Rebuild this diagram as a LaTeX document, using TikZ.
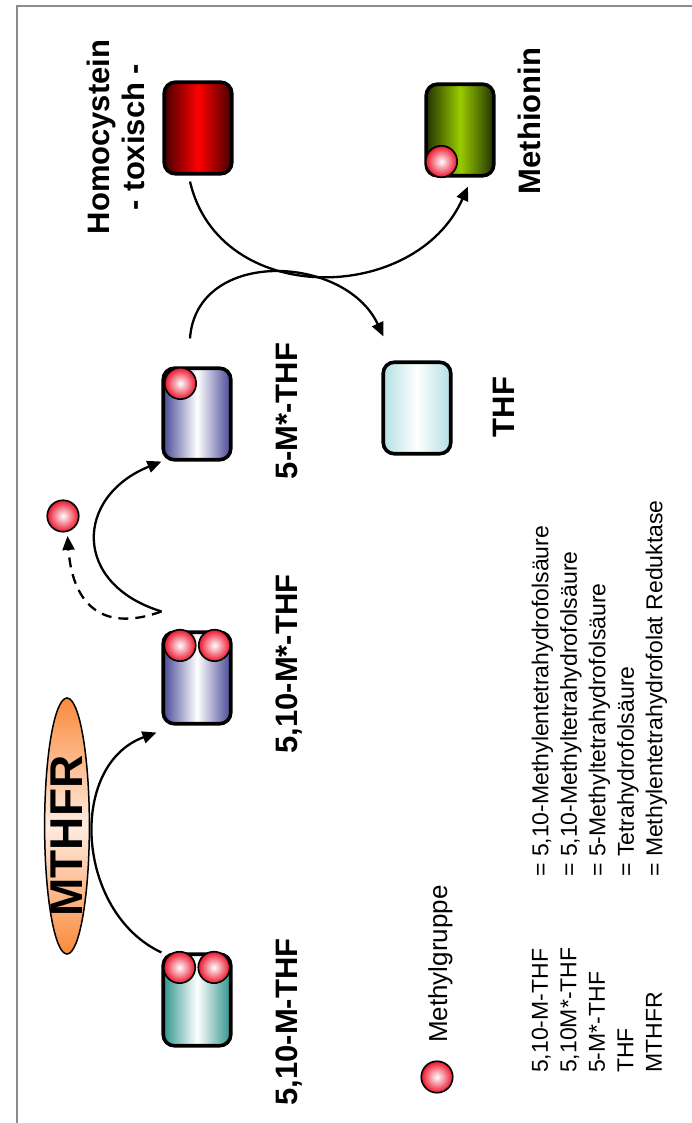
\documentclass[tikz,border=0pt]{standalone}
\usepackage{fontspec}
\setsansfont{Liberation Sans}
\usetikzlibrary{
  arrows.meta,
  positioning,
  shapes.geometric, % ellipse
}
\definecolor{homoedge}{RGB}{70,0,0}
\definecolor{homocore}{RGB}{255,0,0}
\definecolor{methedge}{RGB}{34,50,0}
\definecolor{methcore}{RGB}{153,204,0}
\definecolor{foledge}{RGB}{72,72,150}
\definecolor{tealedge}{RGB}{48,148,142}
\definecolor{thfedge}{RGB}{178,224,226}
\definecolor{enzedge}{RGB}{250,138,60}
\definecolor{enzcore}{RGB}{255,236,224}
\definecolor{methylred}{RGB}{235,20,45}
\def\myboxw{67.5pt}
\def\myboxh{91.5pt}
\tikzset{
  font=\sffamily,
  >={Triangle[length=14pt,width=12pt]},
  my frame/.style={
    draw=black!45,
    line width=1.5pt
  },
  my box/.style={
    draw,
    line width=3.6pt,
    rounded corners=11pt,
    minimum width=\myboxw,
    minimum height=\myboxh,
    inner sep=0pt,
    rectangle
  },
  homo box/.style={my box, left color=homoedge, right color=homoedge, middle color=homocore},
  meth box/.style={my box, left color=methedge, right color=methedge, middle color=methcore},
  fol box/.style={my box, left color=foledge, right color=foledge, middle color=white},
  teal box/.style={my box, left color=tealedge, right color=tealedge, middle color=white},
  thf box/.style={my box, left color=thfedge, right color=thfedge, middle color=white},
  methyl/.style={
    circle,
    draw,
    line width=1.6pt,
    minimum size=31.5pt,
    inner sep=0pt,
    inner color=white,
    outer color=methylred
  },
  enzyme/.style={
    ellipse,
    draw,
    line width=1.5pt,
    rotate=90,
    inner sep=0pt,
    minimum width=256pt,
    top color=enzedge, bottom color=enzedge, middle color=enzcore,
    font=\sffamily\bfseries\fontsize{46}{50}\selectfont
  },
  my label/.style={
    rotate=90,
    anchor=base,
    font=\sffamily\bfseries\fontsize{31}{35}\selectfont
  },
  legend/.style={
    rotate=90,
    inner sep=0pt,
    align=left,
    font=\sffamily\fontsize{23}{28.5}\selectfont
  },
  reaction/.style={
    ->,
    line width=2.3pt
  },
  split/.style={
    reaction,
    dash pattern=on 10pt off 7pt
  }
}

\begin{document}
\begin{tikzpicture}[x=1pt,y=1pt]
\useasboundingbox (0,0) rectangle (692,1123);
\draw[my frame] (17,0) -- (17,1117) -- (692,1117);

% molecules
\node[homo box] (homo)  at (198,995) {};
\node[meth box] (meth)  at (460,993) {};
\node[fol box]  (m5s)   at (197,709) {};
\node[thf box]  (thf)   at (417,715) {};
\node[fol box]  (m510s) at (197,445) {};
\node[teal box] (m510)  at (197,123) {};

\node[methyl] (m510a)  at ([xshift=-17.5pt,yshift=-15pt]m510.north) {};
\node[methyl] (m510b)  at ([xshift=17pt,yshift=-15pt]m510.north) {};
\node[methyl] (m510sa) at ([xshift=-17pt,yshift=-15pt]m510s.north) {};
\node[methyl] (m510sb) at ([xshift=17.5pt,yshift=-15pt]m510s.north) {};
\node[methyl] (m5sa)   at ([xshift=19pt,yshift=-17pt]m5s.north west) {};
\node[methyl] (metha)  at ([xshift=17pt,yshift=16pt]meth.south west) {};
\node[methyl] (free)   at (63,607) {};

\node[enzyme] (mthfr) at (67,297) {\raisebox{0pt}{\hspace*{-20pt}MTHFR}};

% labels
\node[my label, anchor=center, align=center] (homol) at (116,986) {Homocystein\\- toxisch -};
\node[my label] (methl)  at (540,1002) {Methionin};
\node[my label] (m5sl)   at (297,712) {5-M*-THF};
\node[my label] (thfl)   at (514,716) {THF};
\node[my label] (m510sl) at (297,459) {5,10-M*-THF};
\node[my label] (m510l)  at (297,101) {5,10-M-THF};

% legend
\node[methyl] (legball) at (437,46) {};
\node[legend, anchor=base west, font=\sffamily\fontsize{26}{30}\selectfont] (legtext) at (447,80) {Methylgruppe};
\node[legend, anchor=north west] (abbr) at (531.5,50) {5,10-M-THF\\5,10M*-THF\\5-M*-THF\\THF\\MTHFR};
\node[legend, anchor=north west] (expl) at (531.5,246) {= 5,10-Methylentetrahydrofolsäure\\= 5,10-Methyltetrahydrofolsäure\\= 5-Methyltetrahydrofolsäure\\= Tetrahydrofolsäure\\= Methylentetrahydrofolat Reduktase};

% reactions
\coordinate (fork)   at ([yshift=19pt]m510s.north west);
\coordinate (m5sout) at ([xshift=-7pt,yshift=28pt]m5s.north);
\coordinate (thfin)  at ([xshift=2pt,yshift=24pt]thf.north west);
\coordinate (homout) at ([xshift=-8pt,yshift=-6pt]homo.south);
\coordinate (methin) at ([xshift=8pt,yshift=-9pt]meth.south);

\draw[reaction] (m510.north west) to[out=155,in=200,looseness=1.1] ([xshift=-5pt,yshift=-7pt]m510s.south west);
\draw[reaction] (fork) to[out=163,in=202,looseness=1.6] (m5s.south west);
\draw[split, shorten >=4pt] (fork) to[out=200,in=274,looseness=1.4] (free.285);
\draw[reaction] (m5sout) to[out=86,in=115,looseness=1.2] (thfin);
\draw[reaction] (homout) to[out=283,in=246,looseness=1.19] (methin);
\end{tikzpicture}
\end{document}
